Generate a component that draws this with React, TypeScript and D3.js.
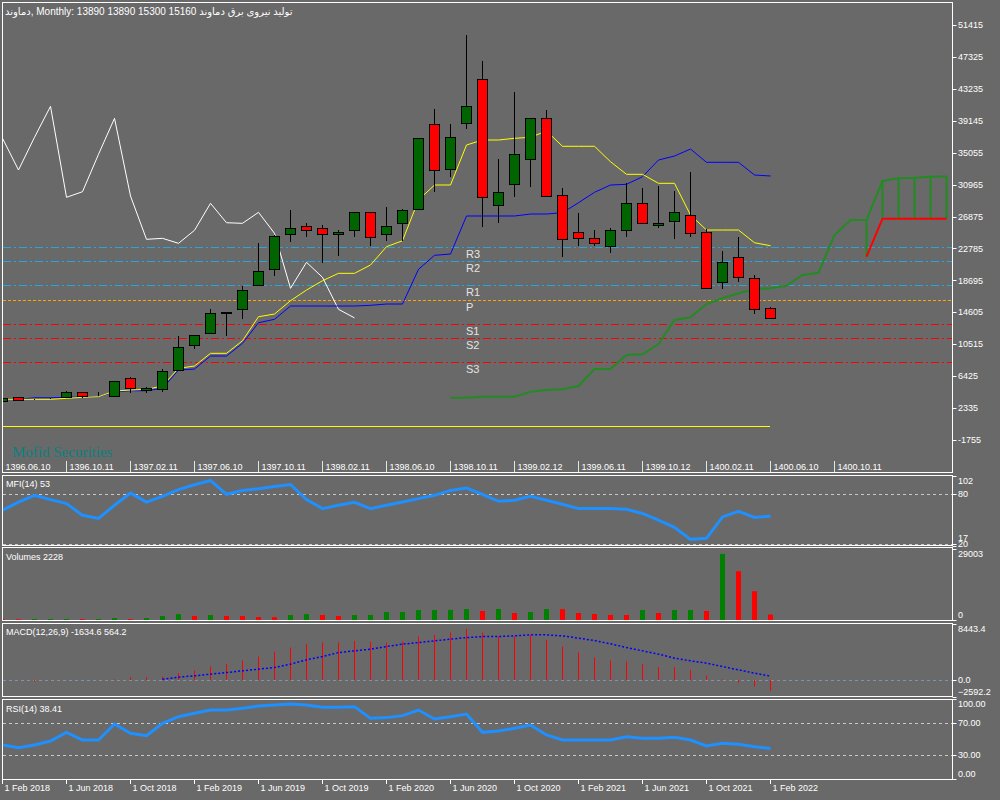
import React from "react";
import * as d3 from "d3";

const BG = "#696969";

const persianLabels = ["1396.06.10", "1396.10.11", "1397.02.11", "1397.06.10", "1397.10.11", "1398.02.11", "1398.06.10", "1398.10.11", "1399.02.12", "1399.06.11", "1399.10.12", "1400.02.11", "1400.06.10", "1400.10.11"];
const gregLabels = ["1 Feb 2018", "1 Jun 2018", "1 Oct 2018", "1 Feb 2019", "1 Jun 2019", "1 Oct 2019", "1 Feb 2020", "1 Jun 2020", "1 Oct 2020", "1 Feb 2021", "1 Jun 2021", "1 Oct 2021", "1 Feb 2022"];
const labelStep = 4;

const open = [3240, 3712, 3440, 3500, 3789, 4352, 3860, 3840, 6146, 4700, 4738, 7210, 10413, 11989, 14550, 14987, 18062, 20113, 24597, 25661, 25366, 24597, 25109, 27416, 24597, 26007, 27801, 38691, 32925, 38820, 44457, 28351, 31004, 34207, 39460, 29594, 24853, 24084, 23060, 25109, 28569, 25750, 26263, 27031, 24853, 18446, 21650, 18959, 15160];
const high = [3650, 3780, 3520, 3640, 4520, 4400, 4430, 5850, 6352, 5000, 7337, 11566, 11750, 15026, 14700, 17975, 23520, 24450, 27711, 26007, 25789, 25148, 27416, 27416, 28134, 27839, 36898, 40652, 38730, 50133, 46802, 34207, 42868, 39460, 40524, 30491, 27288, 25148, 25366, 31132, 30491, 30786, 30107, 32541, 25238, 22496, 24213, 19383, 15300];
const low = [3200, 3300, 3380, 3460, 3760, 3584, 3820, 3800, 4300, 4230, 4430, 7100, 9863, 11823, 11570, 13706, 18000, 19255, 23649, 24226, 20958, 21855, 24226, 23098, 23777, 23777, 27801, 30056, 31977, 38051, 25571, 26083, 29415, 30696, 29505, 21726, 23098, 23136, 22163, 24290, 25879, 25443, 24033, 24213, 17678, 17550, 18523, 14347, 13890];
const close = [3580, 3366, 3470, 3560, 4352, 3840, 3900, 5800, 4865, 4860, 7082, 10157, 11694, 14513, 14603, 17460, 19895, 24379, 25366, 25109, 24597, 24930, 27416, 24251, 25661, 27711, 36898, 32836, 37026, 40998, 29338, 30055, 34848, 39460, 29505, 23956, 24084, 23444, 25109, 28569, 26083, 26007, 27416, 24725, 17678, 21009, 19087, 14987, 13890];

const tenkan = [3456, 3456, 3456, 3456, 3584, 3712, 3789, 4520, 4648, 4737, 5160, 7428, 7723, 9350, 9350, 10964, 14039, 14385, 16089, 17460, 18652, 19600, 19600, 20664, 23009, 23777, 28992, 30914, 30914, 36039, 36680, 36680, 36898, 37026, 37833, 35873, 35873, 35873, 33900, 32285, 32285, 31132, 31132, 27070, 25148, 25148, 25148, 23521, 23136];
const kijun = [3456, 3456, 3660, 3660, 3712, 3750, 3789, 4430, 4558, 4558, 4865, 7210, 7338, 9004, 9004, 10630, 13270, 13706, 15410, 15410, 15410, 15410, 15410, 15500, 15667, 15667, 20113, 21906, 22073, 26943, 26943, 26943, 26943, 27199, 27199, 27365, 28646, 29979, 30914, 31004, 31977, 34117, 34630, 35527, 33822, 33822, 33822, 32195, 32067];
const chikouShift = 26;
const spanBStart = 28;
const spanB = [3661, 3661, 3789, 3789, 3789, 4430, 4648, 4737, 5160, 7338, 7338, 9132, 9222, 10542, 13618, 13964, 15667, 16397, 17038, 17551, 17679, 18012, 19382, 19677, 24508, 26429, 26429, 31427, 31773, 31850, 31978, 32003];
const spanAStart = 54;
const spanA = [21727, 26600, 26600, 26600, 26600, 26600];

const pivotNames = ["R3", "R2", "R1", "P", "S1", "S2", "S3"];
const pivotValues = [22931, 21137, 18062, 16140, 13065, 11271, 8196];
const zeroLevel = 0;
const priceTicks = [51415, 47325, 43235, 39145, 35055, 30965, 26875, 22785, 18695, 14605, 10515, 6425, 2335, -1755];

const mfi = [60.1, 70.0, 78.1, 72.9, 68.1, 54.1, 50.2, 66.1, 80.8, 70.0, 76.9, 84.9, 90.9, 96.0, 79.3, 84.0, 86.1, 88.8, 91.2, 72.9, 62.1, 66.1, 69.7, 62.1, 66.1, 70.0, 74.1, 78.1, 84.0, 86.8, 79.3, 70.9, 72.1, 76.9, 72.1, 67.3, 62.1, 62.1, 62.1, 61.3, 56.2, 48.1, 39.4, 25.0, 26.2, 52.1, 58.9, 51.4, 53.0];
const mfiTicks = [102, 80, 20, 17];
const mfiLevels = [80, 20];

const volume = [380, 330, 395, 405, 415, 360, 395, 800, 375, 800, 1600, 2400, 1650, 2020, 1650, 1600, 1220, 1175, 2020, 2400, 2020, 1650, 2020, 2070, 3240, 3290, 4040, 4090, 4140, 4470, 3670, 4510, 2870, 3240, 4470, 4420, 2870, 2440, 2070, 2020, 4040, 2870, 4040, 4090, 3670, 27000, 19900, 11750, 2228];
const volTicks = [29003, 0];

const macd = [0, -60, -250, -60, -20, 20, 40, 106, 408, 408, 499, 1013, 1406, 2011, 2373, 2918, 3522, 4278, 4883, 5397, 5639, 5639, 5896, 5790, 5639, 5790, 6546, 6803, 7150, 7710, 7150, 6546, 6546, 6803, 6047, 5034, 4127, 3371, 2918, 2766, 2373, 1920, 1920, 1512, 650, 106, -408, -1013, -1634.6];
const signalStart = 10;
const signal = [106, 408, 605, 862, 1104, 1361, 1618, 1859, 2373, 3023, 3522, 4127, 4384, 4641, 5034, 5397, 5639, 5896, 6153, 6395, 6546, 6546, 6652, 6803, 6803, 6652, 6304, 5941, 5442, 4883, 4384, 3885, 3280, 2872, 2525, 2011, 1512, 1013, 564.2];
const macdTicks = [8443.4, 0.0, -2592.2];

const rsi = [42.9, 39.6, 42.9, 47.9, 58.7, 49.1, 49.1, 69.1, 57.5, 54.5, 70.0, 78.3, 82.5, 86.6, 86.6, 88.7, 91.6, 92.9, 94.1, 92.9, 90.0, 90.0, 90.8, 76.2, 77.1, 79.6, 86.6, 75.4, 78.3, 81.6, 58.7, 60.4, 63.7, 67.9, 55.4, 49.1, 49.1, 49.1, 49.1, 53.3, 51.2, 51.2, 52.5, 49.1, 41.6, 45.0, 43.7, 40.8, 38.41];
const rsiTicks = [100, 70, 30, 0];
const rsiLevels = [70, 30];

const titleText = "دماوند, Monthly:  13890 13890 15300 15160  تولید نیروی  برق دماوند";

const FONT = "Liberation Sans, Arial, DejaVu Sans, sans-serif";
const LEFT = 2.5;
const RIGHT = 952.5;

type Pt = [number, number];

export default function App() {
  const x = d3.scaleLinear().domain([0, 1]).range([2, 18]);
  const cx = (i: number) => Math.round(x(i));
  const yP = d3.scaleLinear().domain([-1755, 51415]).range([440, 25]);
  const yMfi = d3.scaleLinear().domain([17, 102]).range([546, 475.5]);
  const yVol = d3.scaleLinear().domain([0, 29003]).range([620, 549]);
  const yMacd = d3.scaleLinear().domain([-2592.2, 8443.4]).range([697, 624]);
  const yRsi = d3.scaleLinear().domain([0, 100]).range([779.3, 699.3]);

  const mk = (ys: d3.ScaleLinear<number, number>) =>
    d3.line<Pt>().x((d) => cx(d[0]) + 0.5).y((d) => ys(d[1]));
  const pts = (arr: number[], start = 0): Pt[] => arr.map((v, k) => [start + k, v]);

  const panels = [
    { id: "main", top: 2.5, bottom: 472.5 },
    { id: "mfi", top: 475.5, bottom: 545.5 },
    { id: "vol", top: 547.5, bottom: 620.5 },
    { id: "macd", top: 623.5, bottom: 696.5 },
    { id: "rsi", top: 699.5, bottom: 779.5 },
  ];

  const chikou = close.slice(chikouShift);
  const pivotColor = (n: string) => (n.startsWith("R") ? "#22a8e0" : n === "P" ? "#ffa500" : "#ff0000");
  const pivotDash = (n: string) => (n === "P" ? "3,2" : "8,3,2,3");

  const axisLabel = (
    key: string,
    yTick: number,
    text: string,
    pos: "top" | "mid" | "bottom",
    extra = 0
  ) => {
    const ty = (pos === "top" ? yTick + 5 : pos === "bottom" ? yTick - 5 : yTick) + extra;
    return (
      <g key={key}>
        <line x1={RIGHT} x2={RIGHT + 4} y1={Math.round(yTick) + 0.5} y2={Math.round(yTick) + 0.5} stroke="#fff" />
        <text x={958} y={ty} dy="0.35em" fill="#fff" fontSize={9}>{text}</text>
      </g>
    );
  };
  const posOf = (k: number, n: number) => (k === 0 ? "top" : k === n - 1 ? "bottom" : "mid");

  return (
    <div style={{ position: "fixed", left: 0, top: 0, width: 1000, height: 800, background: BG }}>
      <svg width={1000} height={800} style={{ display: "block" }} fontFamily={FONT}>
        <rect x={0} y={0} width={1000} height={800} fill={BG} />
        <defs>
          {panels.map((p) => (
            <clipPath id={"clip-" + p.id} key={p.id}>
              <rect x={3} y={p.top + 0.5} width={RIGHT - 3} height={p.bottom - p.top - 1} />
            </clipPath>
          ))}
        </defs>

        {/* MAIN PANEL */}
        <g clipPath="url(#clip-main)">
          {pivotNames.map((n, k) => (
            <line key={n} x1={3} x2={RIGHT} y1={Math.round(yP(pivotValues[k])) + 0.5} y2={Math.round(yP(pivotValues[k])) + 0.5}
              stroke={pivotColor(n)} strokeDasharray={pivotDash(n)} />
          ))}
          {pivotNames.map((n, k) => (
            <text key={"t" + n} x={466} y={yP(pivotValues[k]) + 7} dy="0.35em" fill="#e4e4e4" fontSize={11}>{n}</text>
          ))}
          <line x1={3} x2={cx(open.length - 1)} y1={Math.round(yP(zeroLevel)) + 0.5} y2={Math.round(yP(zeroLevel)) + 0.5} stroke="#ffff00" />
          {spanA.map((a, k) => {
            const i = spanAStart + k;
            const b = spanB[i - spanBStart];
            return <line key={"h" + i} x1={cx(i) + 0.5} x2={cx(i) + 0.5} y1={yP(a)} y2={yP(b)} stroke="#228b22" strokeWidth={2} />;
          })}
          <path d={mk(yP)(pts(spanB, spanBStart)) || ""} fill="none" stroke="#228b22" strokeWidth={2} />
          <path d={mk(yP)(pts(spanA, spanAStart)) || ""} fill="none" stroke="#ff0000" strokeWidth={2} />
          <path d={mk(yP)(pts(chikou)) || ""} fill="none" stroke="#ffffff" strokeWidth={1} />
          <path d={mk(yP)(pts(kijun)) || ""} fill="none" stroke="#0000ff" strokeWidth={1} />
          <path d={mk(yP)(pts(tenkan)) || ""} fill="none" stroke="#ffff00" strokeWidth={1} />
          {open.map((o, i) => {
            const c = close[i];
            const xc = cx(i);
            const yo = yP(o), yc = yP(c);
            const t = Math.round(Math.min(yo, yc)) + 0.5;
            const b = Math.round(Math.max(yo, yc)) + 0.5;
            return (
              <g key={"c" + i}>
                <line x1={xc + 0.5} x2={xc + 0.5} y1={Math.round(yP(high[i]))} y2={Math.round(yP(low[i]))} stroke="#000" />
                <rect x={xc - 4.5} y={t} width={10} height={Math.max(0, b - t)} fill={c >= o ? "#006400" : "#ff0000"} stroke="#000" />
              </g>
            );
          })}
          <text x={12} y={452} dy="0.35em" fill="#0b8080" fontSize={15} fontFamily="Liberation Serif, Times New Roman, serif">Mofid Securities</text>
        </g>
        <text x={5} y={11} dy="0.35em" fill="#fff" fontSize={10} fontFamily={FONT}>{titleText}</text>
        {priceTicks.map((v, k) => axisLabel("p" + k, yP(v), String(v), "mid"))}
        {persianLabels.map((s, k) => {
          const xt = cx(k * labelStep) + 0.5;
          return (
            <g key={"pd" + k}>
              <line x1={xt} x2={xt} y1={461} y2={472} stroke="#dfe8e0" />
              <text x={xt + 3} y={467} dy="0.35em" fill="#fff" fontSize={9}>{s}</text>
            </g>
          );
        })}

        {/* MFI */}
        <g clipPath="url(#clip-mfi)">
          {mfiLevels.map((l) => (
            <line key={l} x1={3} x2={RIGHT} y1={Math.round(yMfi(l)) + 0.5} y2={Math.round(yMfi(l)) + 0.5} stroke="#c8c8c8" strokeDasharray="3,3" />
          ))}
          <path d={mk(yMfi)(pts(mfi)) || ""} fill="none" stroke="#1e90ff" strokeWidth={3} />
        </g>
        <text x={6} y={483.5} dy="0.35em" fill="#fff" fontSize={9}>MFI(14) 53</text>
        {mfiTicks.map((v, k) => axisLabel("m" + k, yMfi(v), String(v), posOf(k, mfiTicks.length), k === mfiTicks.length - 1 ? -3 : 0))}

        {/* VOLUMES */}
        <g clipPath="url(#clip-vol)">
          {volume.map((v, i) => {
            const up = i > 0 && v > volume[i - 1];
            const yt = yVol(v);
            return <rect key={"v" + i} x={cx(i) - 2} y={yt} width={5} height={yVol(0) - yt} fill={up ? "#008000" : "#ff0000"} />;
          })}
        </g>
        <text x={6} y={557} dy="0.35em" fill="#fff" fontSize={9}>Volumes 2228</text>
        {volTicks.map((v, k) => axisLabel("vt" + k, yVol(v), String(v), posOf(k, volTicks.length)))}

        {/* MACD */}
        <g clipPath="url(#clip-macd)">
          <line x1={3} x2={RIGHT} y1={Math.round(yMacd(0)) + 0.5} y2={Math.round(yMacd(0)) + 0.5} stroke="#8094a8" strokeDasharray="3,3" />
          {macd.map((v, i) => (
            <line key={"mh" + i} x1={cx(i) + 0.5} x2={cx(i) + 0.5} y1={yMacd(0)} y2={yMacd(v)} stroke="#ff0000" />
          ))}
          <path d={mk(yMacd)(pts(signal, signalStart)) || ""} fill="none" stroke="#0000ff" strokeWidth={1.5} strokeDasharray="2,2" />
        </g>
        <text x={6} y={632} dy="0.35em" fill="#fff" fontSize={9}>MACD(12,26,9) -1634.6 564.2</text>
        {macdTicks.map((v, k) => axisLabel("mt" + k, yMacd(v), d3.format(".1f")(v), posOf(k, macdTicks.length)))}

        {/* RSI */}
        <g clipPath="url(#clip-rsi)">
          {rsiLevels.map((l) => (
            <line key={l} x1={3} x2={RIGHT} y1={Math.round(yRsi(l)) + 0.5} y2={Math.round(yRsi(l)) + 0.5} stroke="#c8c8c8" strokeDasharray="3,3" />
          ))}
          <path d={mk(yRsi)(pts(rsi)) || ""} fill="none" stroke="#1e90ff" strokeWidth={3} />
        </g>
        <text x={6} y={708.5} dy="0.35em" fill="#fff" fontSize={9}>RSI(14) 38.41</text>
        {rsiTicks.map((v, k) => axisLabel("rt" + k, yRsi(v), d3.format(".2f")(v), posOf(k, rsiTicks.length)))}

        {gregLabels.map((s, k) => {
          const xt = cx(k * labelStep) + 0.5;
          return (
            <g key={"gd" + k}>
              <line x1={xt} x2={xt} y1={779.5} y2={784} stroke="#fff" />
              <text x={xt + 2} y={788} dy="0.35em" fill="#fff" fontSize={9}>{s}</text>
            </g>
          );
        })}

        {panels.map((p) => (
          <rect key={"f" + p.id} x={LEFT} y={p.top} width={RIGHT - LEFT} height={p.bottom - p.top} fill="none" stroke="#fff" />
        ))}
      </svg>
    </div>
  );
}
